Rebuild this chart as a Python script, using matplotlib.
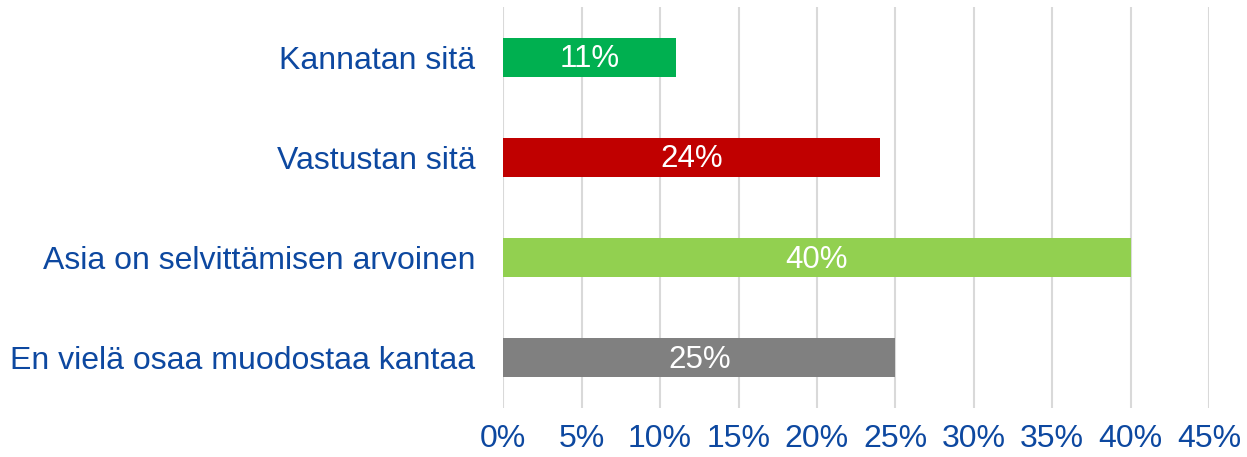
import numpy as np
import matplotlib.pyplot as plt

plt.rcParams['font.family'] = ['Liberation Sans', 'DejaVu Sans']

categories = ['Kannatan sitä', 'Vastustan sitä', 'Asia on selvittämisen arvoinen',
              'En vielä osaa muodostaa kantaa']
values = [11, 24, 40, 25]
colors = ['#00B050', '#C00000', '#92D050', '#808080']
xticks = [0, 5, 10, 15, 20, 25, 30, 35, 40, 45]

text_blue = '#0D48A0'

fig = plt.figure(figsize=(12.47, 4.57), dpi=100)
ax = fig.add_axes([0.4036, 0.1083, 0.5659, 0.8753])

ypos = np.arange(len(categories))
bars = ax.barh(ypos, values, height=0.39, color=colors, zorder=3)

for b, v in zip(bars, values):
    ax.text(b.get_width() / 2, b.get_y() + b.get_height() / 2 + 0.02, '%d%%' % v,
            ha='center', va='center', color='white', fontsize=22.5, zorder=4)

ax.set_xlim(0, 45)
ax.set_ylim(len(categories) - 0.5, -0.5)
ax.set_xticks(xticks)
ax.set_xticklabels(['%d%%' % t for t in xticks])
ax.set_yticks(ypos)
ax.set_yticklabels(categories)

ax.grid(axis='x', color='#D9D9D9', lw=1.5, zorder=0)
for s in ax.spines.values():
    s.set_visible(False)
ax.tick_params(axis='both', length=0, labelsize=23, labelcolor=text_blue)
ax.tick_params(axis='y', pad=20)
ax.tick_params(axis='x', pad=12)

plt.savefig('out.png', dpi=100)
